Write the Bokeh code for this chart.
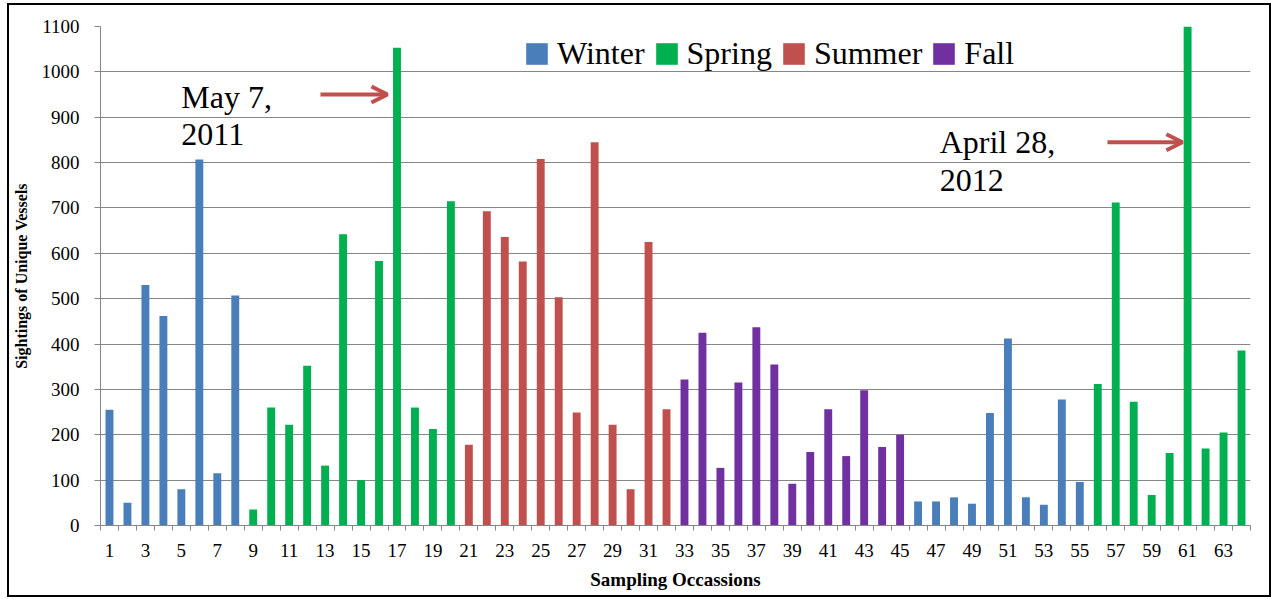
from bokeh.plotting import figure
from bokeh.models import (ColumnDataSource, Range1d, FixedTicker, Legend, LegendItem,
                          Arrow, OpenHead)
from bokeh.core.properties import value
from bokeh.embed import file_html
from bokeh.resources import INLINE

occasions = list(range(1, 65))
sightings = [255, 50, 530, 462, 80, 807, 115, 507,
             35, 260, 222, 352, 132, 642, 100, 583, 1053, 260, 213, 715,
             178, 693, 636, 582, 808, 503, 249, 845, 222, 80, 625, 256,
             322, 425, 127, 315, 437, 355, 92, 162, 256, 153, 298, 173, 200,
             53, 53, 62, 48, 248, 412, 62, 46, 278, 96,
             312, 712, 273, 67, 160, 1100, 170, 205, 386]
seasons = (["Winter"] * 8 + ["Spring"] * 12 + ["Summer"] * 12 + ["Fall"] * 13
           + ["Winter"] * 10 + ["Spring"] * 9)
season_names = ["Winter", "Spring", "Summer", "Fall"]
season_colors = ["#4a7ebb", "#00b050", "#c0504d", "#7030a0"]
x_tick_labels = list(range(1, 64, 2))
y_ticks = list(range(0, 1101, 100))

FONT = "'Liberation Serif', serif"

p = figure(width=1264, height=594, output_backend="svg", toolbar_location=None,
           x_range=Range1d(0.5, 64.5), y_range=Range1d(0, 1100),
           min_border_left=87, min_border_right=23, min_border_top=21,
           min_border_bottom=74)
p.styles = {"border": "2px solid black", "box-sizing": "border-box",
            "margin-left": "7px", "margin-top": "3px"}

items = []
for name, color in zip(season_names, season_colors):
    xs = [o for o, s in zip(occasions, seasons) if s == name]
    ys = [v for v, s in zip(sightings, seasons) if s == name]
    src = ColumnDataSource(dict(x=xs, top=ys))
    r = p.vbar(x="x", top="top", width=0.44, source=src, fill_color=color,
               line_color=None)
    items.append(LegendItem(label=name, renderers=[r]))

legend = Legend(items=items, orientation="horizontal", location=(423, 453),
                label_text_font=FONT, label_text_font_size="32px",
                label_text_color="#000000",
                glyph_width=27, glyph_height=27, spacing=8, label_standoff=7,
                padding=0, margin=0, border_line_alpha=0,
                background_fill_alpha=0)
p.add_layout(legend)

# axes
p.xaxis.ticker = FixedTicker(ticks=x_tick_labels,
                             minor_ticks=[i + 0.5 for i in range(0, 65)])
p.xaxis.major_tick_out = 0
p.xaxis.major_tick_in = 0
p.xaxis.minor_tick_out = 5
p.xaxis.minor_tick_in = 0
p.xaxis.minor_tick_line_color = "#868686"
p.yaxis.ticker = FixedTicker(ticks=y_ticks)
p.yaxis.minor_tick_line_color = None
p.yaxis.major_tick_out = 6
p.yaxis.major_tick_in = 0
p.yaxis.major_tick_line_color = "#868686"
for ax in (p.xaxis[0], p.yaxis[0]):
    ax.axis_line_color = "#868686"
    ax.major_label_text_font = FONT
    ax.major_label_text_font_size = "19px"
    ax.major_label_text_color = "#000000"
    ax.axis_label_text_font = FONT
    ax.axis_label_text_font_style = "bold"
    ax.axis_label_text_color = "#000000"
p.xaxis.axis_label = "Sampling Occassions"
p.xaxis.axis_label_text_font_size = "19px"
p.xaxis.axis_label_standoff = 9
p.yaxis.axis_label = "Sightings of Unique Vessels"
p.yaxis.axis_label_text_font_size = "16px"
p.yaxis.axis_label_standoff = 9
p.yaxis.major_label_standoff = 15
p.xaxis.major_label_standoff = 13

p.xgrid.grid_line_color = None
p.ygrid.grid_line_color = "#868686"
p.ygrid.grid_line_width = 1
p.outline_line_color = None

# annotations
p.text(x=[5.0, 47.2], y=[985, 885], text=["May 7,\n2011", "April 28,\n2012"],
       text_font=value(FONT), text_font_size="32px", text_baseline="top",
       text_line_height=1.05, text_color="#000000")
arrow_color = "#c0504d"
p.add_layout(Arrow(x_start=12.74, y_start=950, x_end=16.47, y_end=950,
                   line_color=arrow_color, line_width=4,
                   end=OpenHead(size=16, line_width=4, line_color=arrow_color)))
p.add_layout(Arrow(x_start=56.54, y_start=845, x_end=60.71, y_end=845,
                   line_color=arrow_color, line_width=4,
                   end=OpenHead(size=16, line_width=4, line_color=arrow_color)))

open("out.html", "w").write(file_html(p, INLINE))
